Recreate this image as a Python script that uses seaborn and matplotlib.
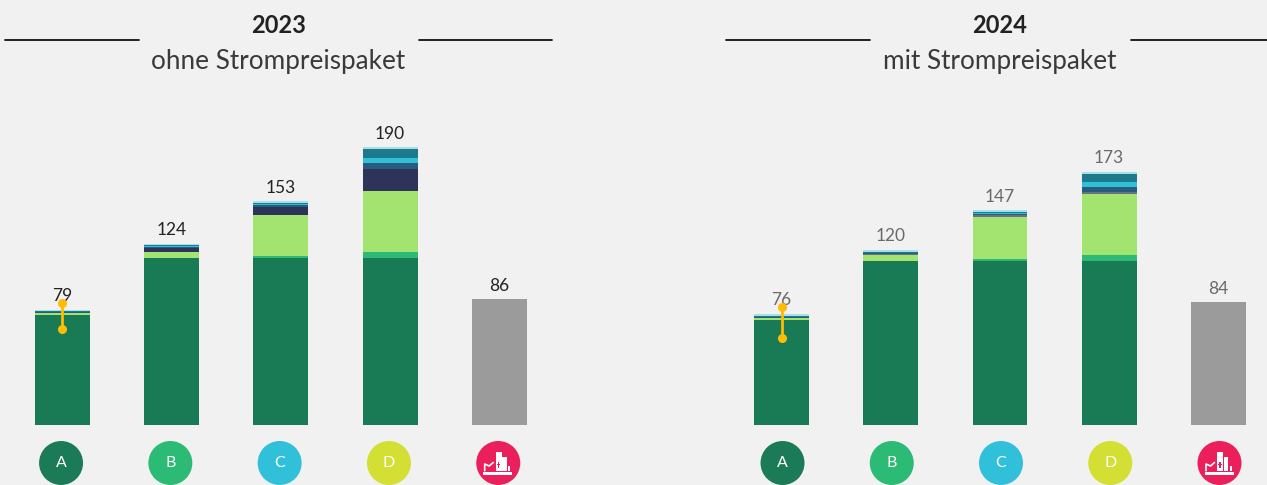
import matplotlib
matplotlib.use("Agg")
import matplotlib.pyplot as plt
import matplotlib.patches as mpatches
from matplotlib.lines import Line2D
from matplotlib.transforms import Affine2D
import numpy as np
import seaborn as sns

W, H = 1267, 485
BG = "#f1f1f1"

categories = ["A", "B", "C", "D", "E"]
circle_colors = ["#1a7b56", "#2bbb75", "#30c0d9", "#d4df33", "#ea1f5c"]

colors_23 = ["#197b56", "#2bbb75", "#a3e36f", "#2e3459", "#2a5b7f",
             "#30bfd8", "#1c7a8c", "#a8e0ea", "#9b9b9b"]
# the navy layer is so thin in 2024 that it reads as grey
colors_24 = ["#197b56", "#2bbb75", "#a3e36f", "#6a7080", "#2a5b7f",
             "#30bfd8", "#1c7a8c", "#a8e0ea", "#9b9b9b"]

# 2023 ohne Strompreispaket
base_23 = [75.0, 114.5, 114.5, 114.5, 0]
green_23 = [0, 0, 1.2, 3.9, 0]
lime_23 = [1.6, 3.9, 28.3, 41.6, 0]
navy_23 = [0, 3.0, 5.0, 15.3, 0]
blue_23 = [0.9, 0.7, 1.4, 4.1, 0]
cyan_23 = [0.2, 0.5, 0.9, 3.6, 0]
teal_23 = [0.1, 0.7, 0.9, 5.8, 0]
light_23 = [1.3, 1.0, 1.0, 1.4, 0]
grey_23 = [0, 0, 0, 0, 86]
labels_23 = [79, 124, 153, 190, 86]
range_23 = [65.8, 83.6]

# 2024 mit Strompreispaket
base_24 = [71.6, 112.3, 112.3, 112.3, 0]
green_24 = [0, 0, 1.4, 4.1, 0]
lime_24 = [1.6, 4.1, 28.8, 42.0, 0]
navy_24 = [0, 0.9, 1.4, 1.0, 0]
blue_24 = [0.8, 0.5, 0.7, 3.6, 0]
cyan_24 = [0.3, 0.3, 0.7, 3.6, 0]
teal_24 = [0.5, 0.4, 0.7, 5.3, 0]
light_24 = [1.2, 1.4, 1.0, 1.4, 0]
grey_24 = [0, 0, 0, 0, 84]
labels_24 = [76, 120, 147, 173, 84]
range_24 = [59.6, 80.5]

PX_PER_UNIT = 1.46
BASELINE = 425
TOP = 100


def px_axes(x0, x1):
    return [x0 / W, 1 - BASELINE / H, (x1 - x0) / W, (BASELINE - TOP) / H]


def draw_icon(fig, cx, cy):
    # small factory/chart pictogram in the last circle, offsets in pixels
    def rect(x0, y0, x1, y1, color="white"):
        fig.add_artist(mpatches.Rectangle((cx + x0, H - cy - y1), x1 - x0, y1 - y0,
                                          transform=None, fc=color, ec="none"))
    rect(-14.5, 9.3, 14.5, 11.7)
    rect(-1.7, -11.3, 4.0, 7.7)
    rect(4.6, -6.3, 9.0, 7.7)
    rect(10.7, 3.0, 12.7, 7.7)
    rect(0.2, -1.5, 1.6, 4.5, "#ea1f5c")
    rect(-0.8, 1.0, 2.6, 2.2, "#ea1f5c")
    xs = np.array([-13, -13, -8.5, -4.5]) + cx
    ys = H - (np.array([7.7, 1.0, 3.0, -0.5]) + cy)
    fig.add_artist(Line2D(xs, ys, transform=None, color="white", lw=1.2))


def draw_panel(fig, box, series, colors, labels, yrange, label_color, circle_dx):
    ax = fig.add_axes(box)
    ax.set_facecolor(BG)
    bottom = np.zeros(len(categories))
    for vals, color in zip(series, colors):
        sns.barplot(x=categories, y=vals, bottom=bottom, color=color, saturation=1,
                    width=0.503, linewidth=0, ax=ax)
        bottom = bottom + np.array(vals)

    ax.set_xlim(-0.5, 4.5)
    ax.set_ylim(0, (BASELINE - TOP) / PX_PER_UNIT)
    ax.axis("off")

    for i, lab in enumerate(labels):
        ax.annotate(str(lab), (i, bottom[i]), xytext=(0, 6.3), textcoords="offset points",
                    ha="center", va="baseline", fontsize=12.5, color=label_color)

    ax.plot([0, 0], yrange, color="#ffbc00", lw=2, marker="o", ms=5.5, zorder=5)

    # letter circles sit below the baseline, outside the axes
    circle_y = -(463 - BASELINE) / (BASELINE - TOP)
    trans = ax.get_xaxis_transform() + Affine2D().translate(circle_dx, 0)
    ax.scatter(range(len(categories)), [circle_y] * len(categories), s=1003,
               c=circle_colors, linewidths=0, transform=trans, clip_on=False, zorder=5)
    for i, cat in enumerate(categories[:4]):
        ax.text(i, circle_y, cat, transform=trans, ha="center", va="center",
                color="white", fontsize=11.5, zorder=6, clip_on=False)
    return ax


sns.set_theme(style="white")
plt.rcParams["font.family"] = ["Lato", "DejaVu Sans"]
plt.rcParams["figure.facecolor"] = BG

# the small extra keeps the canvas from rounding down to 484 px
fig = plt.figure(figsize=((W + 0.01) / 100, (H + 0.01) / 100), dpi=100, facecolor=BG)

series_23 = [base_23, green_23, lime_23, navy_23, blue_23, cyan_23, teal_23, light_23, grey_23]
series_24 = [base_24, green_24, lime_24, navy_24, blue_24, cyan_24, teal_24, light_24, grey_24]

draw_panel(fig, px_axes(7.6, 554.1), series_23, colors_23, labels_23, range_23, "#222222", -1.2)
draw_panel(fig, px_axes(726.9, 1273.1), series_24, colors_24, labels_24, range_24, "#6a6a6a", 1.0)

draw_icon(fig, 497.7, 463)
draw_icon(fig, 1219, 463)

for cx, year, sub, rules in [
    (278.5, "2023", "ohne Strompreispaket", [(5, 139), (419, 552)]),
    (1000, "2024", "mit Strompreispaket", [(726, 870), (1131, 1267)]),
]:
    fig.text(cx / W, 1 - 33 / H, year, ha="center", va="baseline", fontsize=17,
             fontweight="bold", color="#222222")
    fig.text(cx / W, 1 - 69 / H, sub, ha="center", va="baseline", fontsize=18.8,
             color="#3a3a3a")
    for x0, x1 in rules:
        fig.add_artist(Line2D([x0 / W, x1 / W], [1 - 40 / H, 1 - 40 / H], color="#111111", lw=1.3))

fig.savefig("out.png", dpi=100, facecolor=BG)
